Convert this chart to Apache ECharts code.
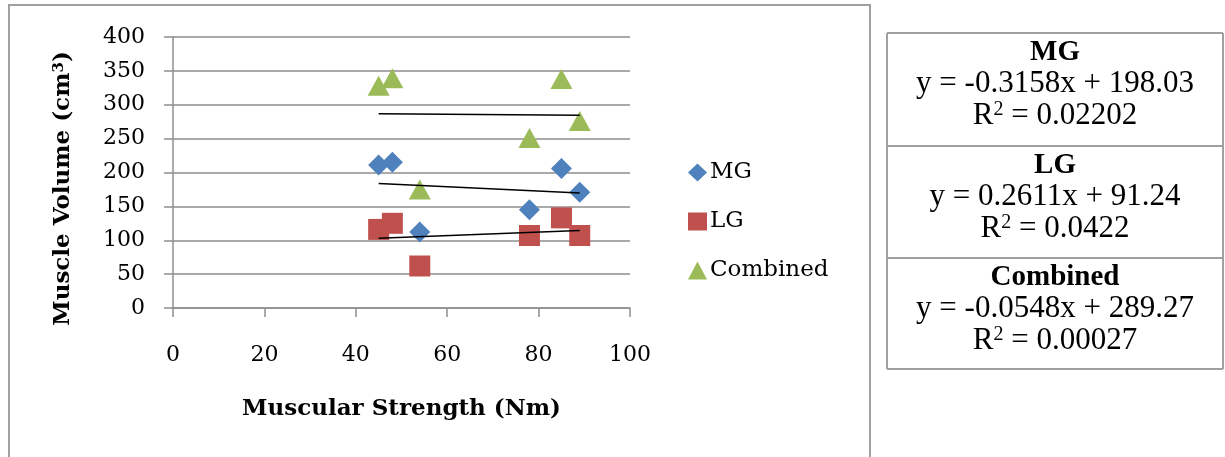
<!DOCTYPE html>
<html>
<head>
<meta charset="utf-8">
<script src="https://cdn.jsdelivr.net/npm/echarts@6/dist/echarts.min.js"></script>
<style>
  html, body { margin: 0; padding: 0; background: #fff; }
  #chart { width: 1225px; height: 457px; }
</style>
</head>
<body>
<div id="chart"></div>
<script>
// 数据：肌力 (Nm) 与肌肉体积 (cm³)
const strength = [45, 48, 54, 78, 85, 89];
const mgVolume = [211, 215, 112, 145, 206, 171];
const lgVolume = [116, 125, 62, 107, 133, 107];
const combinedVolume = [328, 339, 175, 251, 338, 276];

// 右侧表格：趋势线方程
const groupNames = ['MG', 'LG', 'Combined'];
const legendIcons = ['diamond', 'rect', 'triangle'];
const slopes = [-0.3158, 0.2611, -0.0548];
const intercepts = [198.03, 91.24, 289.27];
const rSquared = ['0.02202', '0.0422', '0.00027'];

const COLORS = { MG: '#4F81BD', LG: '#C0504D', Combined: '#9BBB59' };
const SERIF = '"DejaVu Serif", serif';
const TIMES = '"Liberation Serif", "Times New Roman", serif';

const chart = echarts.init(document.getElementById('chart'));

// 趋势线端点：在数据的 x 范围内用斜率/截距计算
const xMin = Math.min(...strength);
const xMax = Math.max(...strength);
function trend(i) {
  return [xMin, xMax].map(x => [x, slopes[i] * x + intercepts[i]]);
}

function points(ys) {
  return strength.map((x, i) => [x, ys[i]]);
}

// 表格图形
const tableLeft = 887, tableRight = 1223;
const rowTops = [33, 146, 258, 369];
const tableCenter = (tableLeft + tableRight) / 2;
const tableGraphics = [];
rowTops.forEach(y => {
  tableGraphics.push({
    type: 'line',
    shape: { x1: tableLeft, y1: y, x2: tableRight, y2: y },
    style: { stroke: '#A0A0A0', lineWidth: 2 }
  });
});
[tableLeft, tableRight].forEach(x => {
  tableGraphics.push({
    type: 'line',
    shape: { x1: x, y1: rowTops[0], x2: x, y2: rowTops[3] },
    style: { stroke: '#A0A0A0', lineWidth: 2 }
  });
});
groupNames.forEach((name, i) => {
  const top = rowTops[i];
  tableGraphics.push({
    type: 'text',
    x: tableCenter, y: top + 5,
    style: {
      text: '{b|' + name + '}\n{n|y = ' + slopes[i] + 'x + ' + intercepts[i] + '}\n{n|R}{s|2}{n| = ' + rSquared[i] + '}',
      align: 'center',
      verticalAlign: 'top',
      rich: {
        b: { fontFamily: TIMES, fontWeight: 'bold', fontSize: 29, lineHeight: 30, fill: '#000' },
        n: { fontFamily: TIMES, fontSize: 31, lineHeight: 32, fill: '#000' },
        s: { fontFamily: TIMES, fontSize: 20, lineHeight: 32, verticalAlign: 'top', fill: '#000' }
      }
    }
  });
});

const option = {
  animation: false,
  backgroundColor: '#fff',
  grid: { left: 173, right: 595, top: 37, bottom: 149 },
  legend: {
    data: groupNames.map((name, i) => ({ name: name, icon: legendIcons[i] })),
    orient: 'vertical',
    left: 688,
    top: 161,
    padding: 0,
    itemWidth: 19,
    itemHeight: 18,
    itemGap: 26,
    textStyle: { fontFamily: SERIF, fontSize: 23, color: '#000', padding: [0, 0, 0, -2] }
  },
  xAxis: {
    type: 'value',
    min: 0,
    max: 100,
    interval: 20,
    name: 'Muscular Strength (Nm)',
    nameLocation: 'middle',
    nameGap: 90,
    nameTextStyle: { fontFamily: SERIF, fontWeight: 'bold', fontSize: 23, color: '#000' },
    axisLine: { onZero: false, lineStyle: { color: '#8E8E8E', width: 1.5 } },
    axisTick: { show: true, length: 9, lineStyle: { color: '#8E8E8E', width: 1.5 } },
    axisLabel: { margin: 36, fontFamily: SERIF, fontSize: 22, color: '#000' },
    splitLine: { show: false }
  },
  yAxis: {
    type: 'value',
    min: 0,
    max: 400,
    interval: 50,
    name: '{t|Muscle Volume (cm}{s|3}{t|)}',
    nameLocation: 'middle',
    nameGap: 98,
    nameTextStyle: {
      padding: [0, 32, 0, 0],
      rich: {
        t: { fontFamily: SERIF, fontWeight: 'bold', fontSize: 23, color: '#000' },
        s: { fontFamily: SERIF, fontWeight: 'bold', fontSize: 15, color: '#000', verticalAlign: 'top' }
      }
    },
    axisLine: { show: true, lineStyle: { color: '#8E8E8E', width: 1.5 } },
    axisTick: { show: true, length: 9, lineStyle: { color: '#8E8E8E', width: 1.5 } },
    axisLabel: { margin: 28, fontFamily: SERIF, fontSize: 22, color: '#000' },
    splitLine: { show: true, lineStyle: { color: '#8E8E8E', width: 1.5 } }
  },
  series: [
    {
      name: 'MG', type: 'scatter', symbol: 'diamond', symbolSize: 21,
      itemStyle: { color: COLORS.MG, opacity: 1 },
      data: points(mgVolume), z: 3
    },
    {
      name: 'LG', type: 'scatter', symbol: 'rect', symbolSize: 21,
      itemStyle: { color: COLORS.LG, opacity: 1 },
      data: points(lgVolume), z: 3
    },
    {
      name: 'Combined', type: 'scatter', symbol: 'triangle', symbolSize: [22, 20],
      itemStyle: { color: COLORS.Combined, opacity: 1 },
      data: points(combinedVolume), z: 3
    },
    ...groupNames.map((name, i) => ({
      name: name + ' trend', type: 'line', data: trend(i),
      symbol: 'none', silent: true, z: 4,
      lineStyle: { color: '#000', width: 1.5 }
    }))
  ],
  graphic: [
    {
      type: 'rect',
      shape: { x: 9, y: 5, width: 861, height: 520 },
      style: { fill: 'none', stroke: '#A0A0A0', lineWidth: 2 },
      silent: true
    },
    ...tableGraphics
  ]
};

chart.setOption(option);
</script>
</body>
</html>
